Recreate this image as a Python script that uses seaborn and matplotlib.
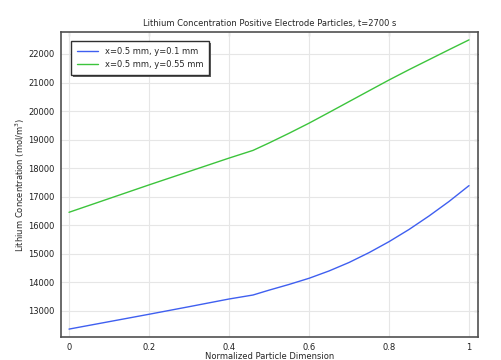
import matplotlib
matplotlib.use("Agg")
import matplotlib.pyplot as plt
from matplotlib.patches import Rectangle
import seaborn as sns
import pandas as pd

x_vals = [0.0, 0.1, 0.2, 0.3, 0.4, 0.46, 0.5, 0.55, 0.6, 0.65, 0.7, 0.75, 0.8, 0.85, 0.9, 0.95, 1.0]
blue_vals = [12355, 12615, 12875, 13140, 13410, 13550, 13720, 13920, 14136, 14393, 14690, 15035,
             15420, 15847, 16320, 16829, 17385]
green_vals = [16450, 16930, 17410, 17880, 18350, 18620, 18880, 19220, 19574, 19950, 20330, 20710,
              21088, 21450, 21800, 22150, 22495]
series_labels = ["x=0.5 mm, y=0.1 mm", "x=0.5 mm, y=0.55 mm"]
x_ticks = [0, 0.2, 0.4, 0.6, 0.8, 1]
x_tick_labels = ["0", "0.2", "0.4", "0.6", "0.8", "1"]
y_ticks = [13000, 14000, 15000, 16000, 17000, 18000, 19000, 20000, 21000, 22000]

sns.set_style("white")
plt.rcParams['font.family'] = ['DejaVu Sans']

df = pd.DataFrame({
    "x": x_vals * 2,
    "y": blue_vals + green_vals,
    "series": [series_labels[0]] * len(x_vals) + [series_labels[1]] * len(x_vals),
})

fig = plt.figure(figsize=(5.01, 3.6), dpi=100)
ax = fig.add_axes([61/501, 1-337/360, (478-61)/501, (337-32)/360])
sns.lineplot(data=df, x="x", y="y", hue="series",
             palette=["#3f5ff0", "#3cc43c"], linewidth=1.0, ax=ax, legend=True)

ax.set_xlim(-0.02, 1.0225)
ax.set_ylim(12078, 22771)
ax.set_xticks(x_ticks)
ax.set_xticklabels(x_tick_labels)
ax.set_yticks(y_ticks)
ax.grid(True, color="#e6e6e6", linewidth=0.8)
ax.set_axisbelow(True)
for s in ax.spines.values():
    s.set_color("#505050")
    s.set_linewidth(1.2)
ax.tick_params(axis="both", labelsize=6, colors="#303030", labelcolor="#202020",
               length=3, width=0.8, direction="out", pad=1.5)
sec_x = ax.secondary_xaxis("top")
sec_x.set_xticks(x_ticks)
sec_x.tick_params(direction="in", length=3, width=0.8, labeltop=False, colors="#303030")
sec_x.spines["top"].set_visible(False)
sec_y = ax.secondary_yaxis("right")
sec_y.set_yticks(y_ticks)
sec_y.tick_params(direction="in", length=3, width=0.8, labelright=False, colors="#303030")
sec_y.spines["right"].set_visible(False)

ax.set_title("Lithium Concentration Positive Electrode Particles, t=2700 s", fontsize=6, pad=4)
ax.set_xlabel("Normalized Particle Dimension", fontsize=6, labelpad=0)
ax.set_ylabel("Lithium Concentration (mol/m$^3$)", fontsize=6, labelpad=1)

leg = ax.legend(loc="upper left", fontsize=6, frameon=True, fancybox=False, shadow=False,
                borderpad=0.7, handlelength=2.5, bbox_to_anchor=(0.015, 0.985))
leg.get_frame().set_edgecolor("#303030")
leg.get_frame().set_linewidth(1.0)
leg.get_frame().set_alpha(1.0)
leg.set_title(None)
leg.set_zorder(6)

fig.canvas.draw()
bb = leg.get_window_extent()
shadow = Rectangle((bb.x0 + 2, bb.y0 - 2), bb.width, bb.height, transform=None,
                   facecolor="#606060", edgecolor="none", zorder=5.5, clip_on=False)
ax.add_artist(shadow)

fig.savefig("out.png", dpi=100)
